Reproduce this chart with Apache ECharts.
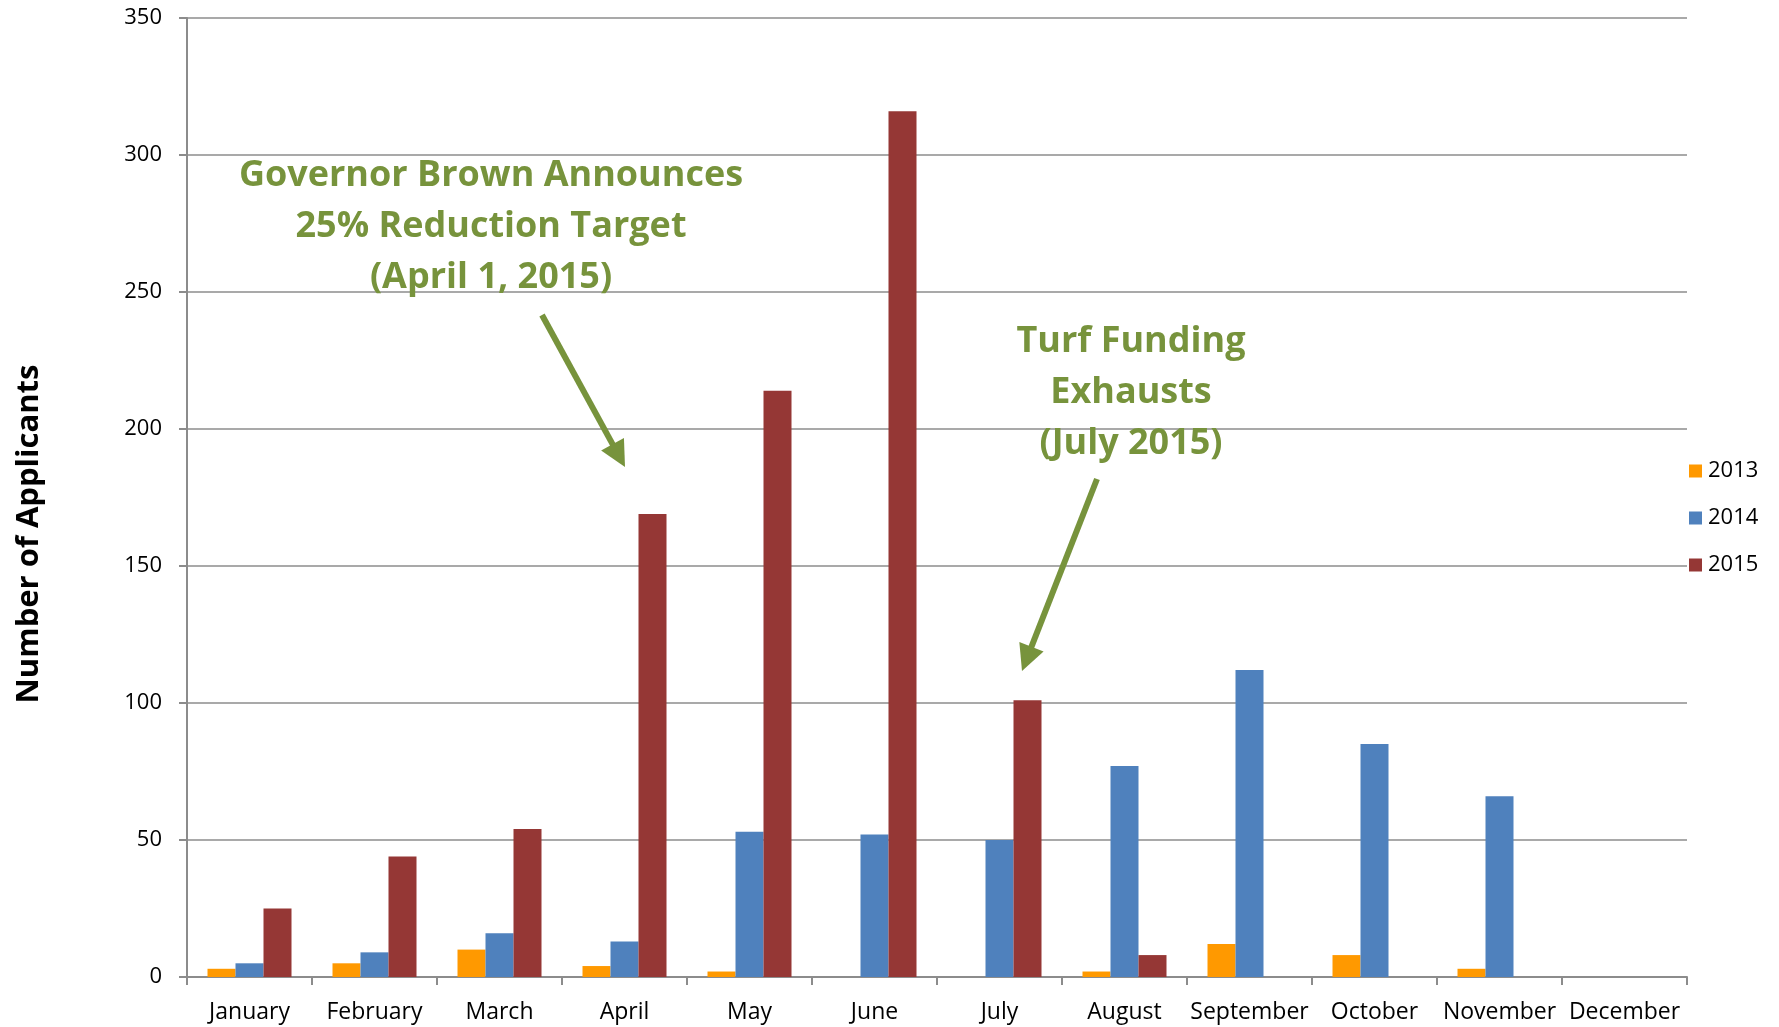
<!DOCTYPE html>
<html>
<head>
<meta charset="utf-8">
<script src="https://cdn.jsdelivr.net/npm/echarts@6/dist/echarts.min.js"></script>
<style>
  html, body { margin: 0; padding: 0; background: #fff; }
  #chart { width: 1779px; height: 1027px; }
</style>
</head>
<body>
<div id="chart"></div>
<script>
// Monthly turf-rebate applicants by year
const months = ['January', 'February', 'March', 'April', 'May', 'June',
                'July', 'August', 'September', 'October', 'November', 'December'];
const applicants2013 = [3, 5, 10, 4, 2, 0, 0, 2, 12, 8, 3, 0];
const applicants2014 = [5, 9, 16, 13, 53, 52, 50, 77, 112, 85, 66, 0];
const applicants2015 = [25, 44, 54, 169, 214, 316, 101, 8, null, null, null, null];
const yTicks = [0, 50, 100, 150, 200, 250, 300, 350];

const green = '#77933c';
const gray = '#8c8c8c';
const font = '"Open Sans", "Noto Sans", sans-serif';

const chart = echarts.init(document.getElementById('chart'));

function bar(name, data, color) {
  return {
    name: name,
    type: 'bar',
    data: data,
    barWidth: 28,
    barGap: '0%',
    itemStyle: { color: color },
    emphasis: { disabled: true }
  };
}

// Arrow (shaft + head) between two pixel points
function arrow(x1, y1, x2, y2) {
  const dx = x2 - x1, dy = y2 - y1;
  const len = Math.sqrt(dx * dx + dy * dy);
  const ux = dx / len, uy = dy / len;
  const head = 26, half = 13;
  const bx = x2 - ux * head, by = y2 - uy * head;
  return [
    {
      type: 'line',
      shape: { x1: x1, y1: y1, x2: bx + ux * 2, y2: by + uy * 2 },
      style: { stroke: green, lineWidth: 6 },
      z: 10
    },
    {
      type: 'polygon',
      shape: { points: [[x2, y2], [bx - uy * half, by + ux * half], [bx + uy * half, by - ux * half]] },
      style: { fill: green },
      z: 10
    }
  ];
}

// Multi-line green annotation centred on cx
function note(lines, cx, top) {
  return {
    type: 'text',
    x: cx,
    y: top,
    z: 10,
    style: {
      text: lines.join('\n'),
      font: 'bold 36px ' + font,
      fill: green,
      textAlign: 'center',
      textVerticalAlign: 'top',
      lineHeight: 51
    }
  };
}

chart.setOption({
  animation: false,
  textStyle: { fontFamily: font },
  grid: { left: 187, right: 92, top: 18, bottom: 50, containLabel: false },
  legend: {
    orient: 'vertical',
    left: 1684,
    top: 455,
    itemWidth: 13,
    itemHeight: 13,
    itemGap: 25,
    icon: 'rect',
    textStyle: { fontSize: 22, color: '#000', fontFamily: font, padding: [0, 0, 0, 1] },
    data: ['2013', '2014', '2015']
  },
  xAxis: {
    type: 'category',
    data: months,
    axisLine: { lineStyle: { color: gray, width: 2 } },
    axisTick: { show: true, length: 8, lineStyle: { color: gray, width: 2 } },
    axisLabel: { fontSize: 23, color: '#000', margin: 24, interval: 0 }
  },
  yAxis: {
    type: 'value',
    min: yTicks[0],
    max: yTicks[yTicks.length - 1],
    interval: yTicks[1] - yTicks[0],
    axisLine: { show: true, lineStyle: { color: gray, width: 2 } },
    axisTick: { show: true, length: 8, lineStyle: { color: gray, width: 2 } },
    splitLine: { lineStyle: { color: gray, width: 1.5 } },
    axisLabel: { fontSize: 22, color: '#000', margin: 25 }
  },
  series: [
    bar('2013', applicants2013, '#ff9900'),
    bar('2014', applicants2014, '#4f81bd'),
    bar('2015', applicants2015, '#953735')
  ],
  graphic: [
    {
      type: 'text',
      x: 29,
      y: 534,
      rotation: Math.PI / 2,
      style: {
        text: 'Number of Applicants',
        font: 'bold 31px ' + font,
        fill: '#000',
        textAlign: 'center',
        textVerticalAlign: 'middle'
      }
    },
    note(['Governor Brown Announces', '25% Reduction Target', '(April 1, 2015)'], 491, 150),
    note(['Turf Funding', 'Exhausts', '(July 2015)'], 1131, 316),
    ...arrow(542, 315, 625, 467),
    ...arrow(1097, 479, 1022, 671)
  ]
});
</script>
</body>
</html>
